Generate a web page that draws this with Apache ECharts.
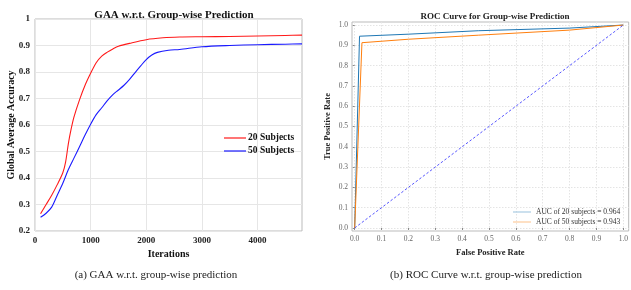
<!DOCTYPE html>
<html><head><meta charset="utf-8">
<script src="https://cdn.jsdelivr.net/npm/echarts@6/dist/echarts.min.js"></script>
<style>html,body{margin:0;padding:0;background:#fff}#c{width:631px;height:290px}</style>
</head><body><div id="c"></div>
<script>
const redIter = [100,200,300,400,500,550,600,650,700,800,900,1000,1100,1200,1300,1400,1500,1700,2000,2300,2600,3000,3500,4000,4500,4800];
const redAcc  = [0.265,0.3,0.335,0.375,0.42,0.46,0.53,0.585,0.63,0.695,0.75,0.795,0.835,0.86,0.875,0.887,0.897,0.908,0.922,0.929,0.932,0.933,0.934,0.936,0.938,0.939];
const blueIter = [100,200,300,400,500,600,700,800,900,1000,1100,1200,1300,1400,1500,1600,1700,1800,1900,2000,2100,2200,2400,2600,3000,3500,4000,4500,4800];
const blueAcc  = [0.252,0.267,0.29,0.335,0.38,0.432,0.475,0.518,0.562,0.603,0.639,0.665,0.692,0.715,0.732,0.75,0.772,0.798,0.823,0.847,0.864,0.874,0.882,0.885,0.895,0.9,0.903,0.905,0.906];
const roc20FPR = [0,0.018,0.2,0.46,0.8,1];
const roc20TPR = [0,0.945,0.955,0.972,0.985,1];
const roc50FPR = [0,0.027,0.2,0.46,0.8,1];
const roc50TPR = [0,0.913,0.93,0.95,0.975,1];
const diagX = [0,1];
const diagY = [0,1];
const rocTicks = [0,0.1,0.2,0.3,0.4,0.5,0.6,0.7,0.8,0.9,1.0];
const gaaXTicks = [0,1000,2000,3000,4000];

const zip = (a,b)=>a.map((v,i)=>[v,b[i]]);
const serif = "'Liberation Serif', 'DejaVu Serif', serif";
const chart = echarts.init(document.getElementById('c'));
chart.setOption({
  animation:false,
  backgroundColor:'#fff',
  textStyle:{fontFamily:serif},
  title:[
    {text:'GAA w.r.t. Group-wise Prediction',left:169,top:5,textAlign:'center',textStyle:{fontFamily:serif,fontSize:11,fontWeight:'bold',color:'#111'}},
    {text:'ROC Curve for Group-wise Prediction',left:490,top:7,textAlign:'center',textStyle:{fontFamily:serif,fontSize:9,fontWeight:'bold',color:'#222'}},
    {text:'(a) GAA w.r.t. group-wise prediction',left:151,top:265,textAlign:'center',textStyle:{fontFamily:serif,fontSize:11,fontWeight:'normal',color:'#222'}},
    {text:'(b) ROC Curve w.r.t. group-wise prediction',left:481,top:265,textAlign:'center',textStyle:{fontFamily:serif,fontSize:11,fontWeight:'normal',color:'#222'}}
  ],
  legend:[
    {orient:'vertical',left:219,top:128,itemGap:3,itemWidth:22,itemHeight:1.2,icon:'rect',
     data:['20 Subjects','50 Subjects'],
     textStyle:{fontFamily:serif,fontSize:9.5,fontWeight:'bold',color:'#111',padding:[0,0,0,-3]}},
    {orient:'vertical',left:508,top:203,itemGap:2,itemWidth:18,itemHeight:1.2,icon:'rect',
     data:[{name:'AUC of 20 subjects = 0.964',itemStyle:{color:'#a9cbe3'}},{name:'AUC of 50 subjects = 0.943',itemStyle:{color:'#fdcb9d'}}],
     textStyle:{fontFamily:serif,fontSize:7.5,color:'#333'}}
  ],
  grid:[
    {left:35,top:19,right:329,bottom:59,show:true,borderColor:'#bbb',borderWidth:1,backgroundColor:'transparent'},
    {left:352,top:22,right:0,bottom:59,show:true,borderColor:'#bbb',borderWidth:1,backgroundColor:'transparent'}
  ],
  xAxis:[
    {gridIndex:0,type:'value',min:0,max:4800,
     name:'Iterations',nameLocation:'middle',nameGap:17,nameTextStyle:{fontFamily:serif,fontSize:10,fontWeight:'bold',color:'#111'},
     axisLine:{show:false},axisTick:{show:false,customValues:gaaXTicks},
     axisLabel:{customValues:gaaXTicks,formatter:v=>String(v),fontFamily:serif,fontSize:9,fontWeight:'bold',color:'#222',margin:5},
     splitLine:{show:true,lineStyle:{color:'#e6e6e6',width:1}}},
    {gridIndex:1,type:'value',min:-0.01,max:1.02,
     name:'False Positive Rate',nameLocation:'middle',nameGap:17,nameTextStyle:{fontFamily:serif,fontSize:8.5,fontWeight:'bold',color:'#222'},
     axisLine:{show:false},axisTick:{show:true,length:2,customValues:rocTicks,lineStyle:{color:'#888'}},
     axisLabel:{customValues:rocTicks,formatter:v=>v.toFixed(1),fontFamily:serif,fontSize:7.5,color:'#666',margin:4},
     splitLine:{show:true,lineStyle:{color:'#e4e4e4',type:[1.5,1.5],width:1}}}
  ],
  yAxis:[
    {gridIndex:0,type:'value',min:0.2,max:1,interval:0.1,
     name:'Global Average Accuracy',nameLocation:'middle',nameGap:19,nameMoveOverlap:false,nameTextStyle:{fontFamily:serif,fontSize:10,fontWeight:'bold',color:'#111'},
     axisLine:{show:false},axisTick:{show:false},
     axisLabel:{fontFamily:serif,fontSize:9,fontWeight:'bold',color:'#222',margin:5},
     splitLine:{show:true,lineStyle:{color:'#e6e6e6',width:1}}},
    {gridIndex:1,type:'value',min:-0.015,max:1.015,
     name:'True Positive Rate',nameLocation:'middle',nameGap:20,nameTextStyle:{fontFamily:serif,fontSize:8.5,fontWeight:'bold',color:'#222'},
     axisLine:{show:false},axisTick:{show:true,length:2,customValues:rocTicks,lineStyle:{color:'#888'}},
     axisLabel:{customValues:rocTicks,formatter:v=>v.toFixed(1),fontFamily:serif,fontSize:7.5,color:'#666',margin:4},
     splitLine:{show:true,lineStyle:{color:'#e4e4e4',type:[1.5,1.5],width:1}}}
  ],
  series:[
    {name:'20 Subjects',type:'line',xAxisIndex:0,yAxisIndex:0,data:zip(redIter,redAcc),smooth:0.3,showSymbol:false,lineStyle:{color:'#ff1a1a',width:1.1},itemStyle:{color:'#ff1a1a'}},
    {name:'50 Subjects',type:'line',xAxisIndex:0,yAxisIndex:0,data:zip(blueIter,blueAcc),smooth:0.3,showSymbol:false,lineStyle:{color:'#1a1aff',width:1.1},itemStyle:{color:'#1a1aff'}},
    {name:'AUC of 20 subjects = 0.964',type:'line',xAxisIndex:1,yAxisIndex:1,data:zip(roc20FPR,roc20TPR),showSymbol:false,lineStyle:{color:'#1f77b4',width:1},itemStyle:{color:'#1f77b4'}},
    {name:'AUC of 50 subjects = 0.943',type:'line',xAxisIndex:1,yAxisIndex:1,data:zip(roc50FPR,roc50TPR),showSymbol:false,lineStyle:{color:'#ff7f0e',width:1},itemStyle:{color:'#ff7f0e'}},
    {name:'diag',type:'line',xAxisIndex:1,yAxisIndex:1,data:zip(diagX,diagY),showSymbol:false,lineStyle:{color:'#2b2bff',width:0.8,type:[2.5,2]}}
  ]
});
</script></body></html>
